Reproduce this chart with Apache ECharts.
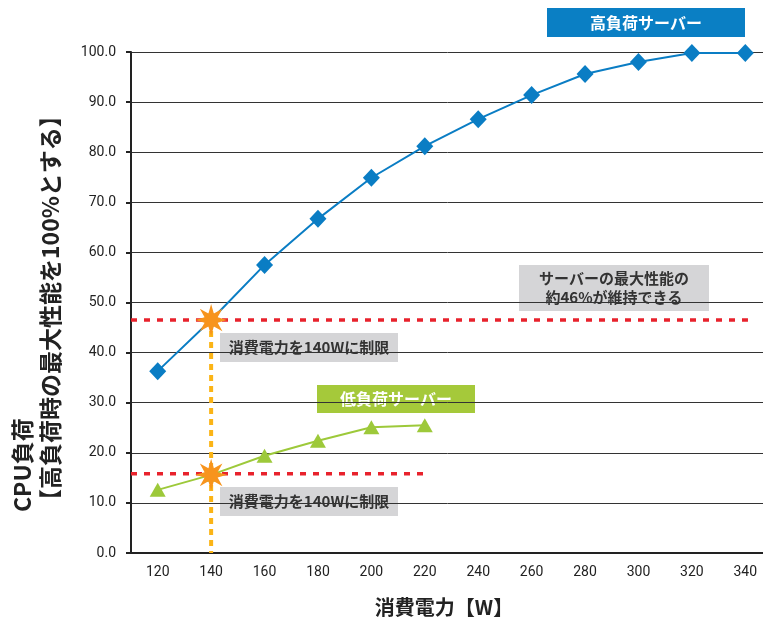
<!DOCTYPE html>
<html>
<head>
<meta charset="utf-8">
<script src="https://cdn.jsdelivr.net/npm/echarts@6/dist/echarts.min.js"></script>
<style>
  html, body { margin: 0; padding: 0; background: #fff; }
  #main { width: 763px; height: 624px; }
</style>
</head>
<body>
<div id="main"></div>
<script>
// power draw categories (W)
var categories = ["120", "140", "160", "180", "200", "220", "240", "260", "280", "300", "320", "340"];
// CPU load, high-load server
var highLoad = [36.3, 46.5, 57.5, 66.7, 74.9, 81.2, 86.6, 91.4, 95.6, 98.0, 99.8, 99.8];
// CPU load, low-load server
var lowLoad = [12.6, 15.6, 19.4, 22.4, 25.1, 25.5];
// 140W cap points (star markers)
var capPoints = [["140", 46.5], ["140", 15.6]];
// red dotted guide lines [W, level]
var highGuide = [[110, 46.5], [341, 46.5]];
var lowGuide = [[110, 15.8], [221, 15.8]];
// orange dashed cap line
var capLine = [[140, 46.5], [140, 0]];
var yTicks = { min: 0, max: 100, interval: 10 };

var FONT = '"Noto Sans CJK JP", sans-serif';

// 8-pointed star symbol
function starPath(n) {
  var pts = [];
  for (var i = 0; i < n * 2; i++) {
    var r = i % 2 === 0 ? 50 : 22;
    var a = Math.PI * i / n - Math.PI / 2;
    pts.push((50 + r * Math.cos(a)).toFixed(2) + " " + (50 + r * Math.sin(a)).toFixed(2));
  }
  return "path://M" + pts.join(" L") + " Z";
}

var chart = echarts.init(document.getElementById("main"));

function box(x, y, w, h, fill, text, color, size) {
  return {
    type: "group",
    left: x, top: y,
    children: [
      { type: "rect", shape: { x: 0, y: 0, width: w, height: h }, style: { fill: fill } },
      {
        type: "text", x: w / 2, y: h / 2,
        style: {
          text: text, fill: color, font: "bold " + size + "px " + FONT,
          align: "center", verticalAlign: "middle", lineHeight: size + 4
        }
      }
    ]
  };
}

var option = {
  animation: false,
  grid: { left: 131, right: -9, top: 52, bottom: 71, outerBoundsMode: "none" },
  xAxis: [
    {
      type: "category",
      data: categories,
      axisLine: { lineStyle: { color: "#222", width: 2 } },
      axisTick: { length: 5, lineStyle: { color: "#222", width: 2 } },
      axisLabel: { color: "#222", fontSize: 14, fontFamily: "Roboto", margin: 12 },
      splitLine: { show: false }
    },
    { type: "value", min: 110, max: 350, show: false }
  ],
  yAxis: {
    type: "value",
    min: yTicks.min, max: yTicks.max, interval: yTicks.interval,
    axisLine: { show: true, lineStyle: { color: "#222", width: 2 } },
    axisTick: { show: true, inside: false, length: 5, lineStyle: { color: "#222", width: 2 } },
    axisLabel: {
      color: "#222", fontSize: 14, fontFamily: "Roboto", margin: 15,
      formatter: function (v) { return v.toFixed(1); }
    },
    splitLine: { lineStyle: { color: "#333", width: 1 } }
  },
  series: [
    {
      type: "line", xAxisIndex: 1, data: capLine, symbol: "none", z: 1,
      lineStyle: { color: "#fbb416", width: 4, type: [6, 5] }
    },
    {
      type: "line", xAxisIndex: 1, data: highGuide, symbol: "none", z: 1,
      lineStyle: { color: "#e8222c", width: 3.5, type: [6, 7] }
    },
    {
      type: "line", xAxisIndex: 1, data: lowGuide, symbol: "none", z: 1,
      lineStyle: { color: "#e8222c", width: 3.5, type: [6, 7] }
    },
    {
      name: "高負荷サーバー", type: "line", data: highLoad, z: 3,
      symbol: "diamond", symbolSize: [17, 18], showAllSymbol: true,
      lineStyle: { color: "#0a7dc4", width: 2 },
      itemStyle: { color: "#0a7dc4" }
    },
    {
      name: "低負荷サーバー", type: "line", data: lowLoad, z: 3,
      symbol: "triangle", symbolSize: [16, 14], showAllSymbol: true,
      lineStyle: { color: "#9dc93a", width: 2 },
      itemStyle: { color: "#9dc93a" }
    },
    {
      type: "scatter", data: capPoints, z: 5,
      symbol: starPath(8), symbolSize: 32,
      itemStyle: { color: "#f7941d", opacity: 1 }
    }
  ],
  graphic: [
    box(547, 8, 198, 29, "#0a7fc4", "高負荷サーバー", "#fff", 16),
    box(317, 385, 158, 28, "#a5c93a", "低負荷サーバー", "#fff", 16),
    box(519, 265, 190, 46, "#d5d5d7", "サーバーの最大性能の\n約46%が維持できる", "#333", 15),
    box(220, 333, 178, 29, "#d5d5d7", "消費電力を140Wに制限", "#333", 15),
    box(220, 487, 178, 29, "#d5d5d7", "消費電力を140Wに制限", "#333", 15),
    {
      type: "text", x: 8, y: 512, rotation: Math.PI / 2,
      style: {
        text: "CPU負荷\n【高負荷時の最大性能を100%とする】",
        font: "bold 23px " + FONT, fill: "#222",
        align: "left", verticalAlign: "top", lineHeight: 28
      }
    },
    {
      type: "text", x: 444, y: 607,
      style: {
        text: "消費電力【W】", font: "bold 20px " + FONT, fill: "#222",
        align: "center", verticalAlign: "middle"
      }
    }
  ]
};

chart.setOption(option);
</script>
</body>
</html>
